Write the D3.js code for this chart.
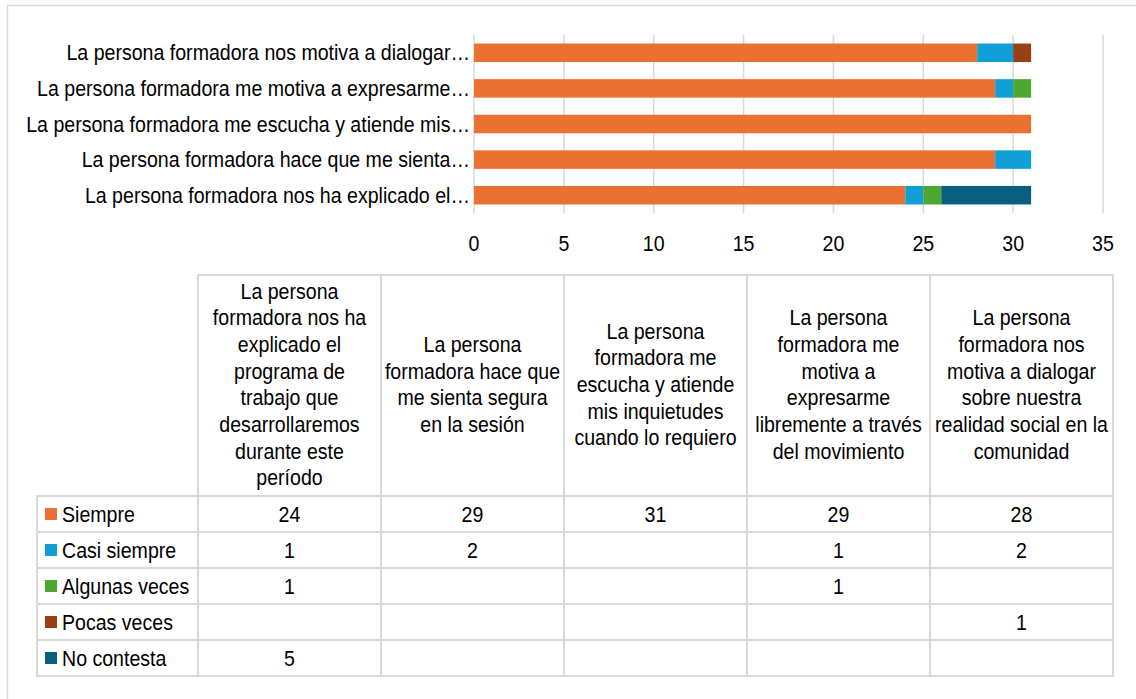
<!DOCTYPE html>
<html>
<head>
<meta charset="utf-8">
<script src="https://cdn.jsdelivr.net/npm/d3@7"></script>
<style>
  html, body { margin: 0; padding: 0; background: #fff; }
  svg { display: block; }
  text { font-family: "Liberation Sans", Arial, sans-serif; fill: #000; }
</style>
</head>
<body>
<svg id="chart" width="1136" height="699"></svg>
<script>
// ---------- data ----------
const categories = [
  "La persona formadora nos ha explicado el programa de trabajo que desarrollaremos durante este período",
  "La persona formadora hace que me sienta segura en la sesión",
  "La persona formadora me escucha y atiende mis inquietudes cuando lo requiero",
  "La persona formadora me motiva a expresarme libremente a través del movimiento",
  "La persona formadora nos motiva a dialogar sobre nuestra realidad social en la comunidad"
];
const axisLabels = [
  "La persona formadora nos ha explicado el…",
  "La persona formadora hace que me sienta…",
  "La persona formadora me escucha y atiende mis…",
  "La persona formadora me motiva a expresarme…",
  "La persona formadora nos motiva a dialogar…"
];
const headerLines = [
  ["La persona", "formadora nos ha", "explicado el", "programa de", "trabajo que", "desarrollaremos", "durante este", "período"],
  ["La persona", "formadora hace que", "me sienta segura", "en la sesión"],
  ["La persona", "formadora me", "escucha y atiende", "mis inquietudes", "cuando lo requiero"],
  ["La persona", "formadora me", "motiva a", "expresarme", "libremente a través", "del movimiento"],
  ["La persona", "formadora nos", "motiva a dialogar", "sobre nuestra", "realidad social en la", "comunidad"]
];
const seriesNames = ["Siempre", "Casi siempre", "Algunas veces", "Pocas veces", "No contesta"];
const siempre      = [24, 29, 31, 29, 28];
const casiSiempre  = [1, 2, null, 1, 2];
const algunasVeces = [1, null, null, 1, null];
const pocasVeces   = [null, null, null, null, 1];
const noContesta   = [5, null, null, null, null];
const xTicks = [0, 5, 10, 15, 20, 25, 30, 35];

const seriesValues = [siempre, casiSiempre, algunasVeces, pocasVeces, noContesta];
const colors = ["#E97132", "#0F9ED5", "#4EA72E", "#983F14", "#0A5E80"];

// ---------- setup ----------
const svg = d3.select("#chart");
const FS = 22, SX = 0.89;
const grid = "#d9d9d9";

function sq(sel, x, y) { return sel.attr("transform", `translate(${x},${y}) scale(${SX},1)`); }

// outer frame
svg.append("line").attr("x1", 7.5).attr("x2", 7.5).attr("y1", 5).attr("y2", 699)
  .attr("stroke", grid).attr("stroke-width", 1.5);
svg.append("line").attr("x1", 7).attr("x2", 1136).attr("y1", 5.5).attr("y2", 5.5)
  .attr("stroke", grid).attr("stroke-width", 1.5);

// ---------- bar chart ----------
const rows = categories.map((c, i) => {
  const o = { cat: c, label: axisLabels[i] };
  seriesNames.forEach((s, j) => o[s] = seriesValues[j][i] || 0);
  return o;
});

const x = d3.scaleLinear().domain([0, 35]).range([474, 1103]);
const y = d3.scaleBand().domain(categories.slice().reverse()).range([35, 213]).paddingInner(0.48).paddingOuter(0.24);

// gridlines
svg.append("g").selectAll("line").data(xTicks).join("line")
  .attr("x1", d => x(d)).attr("x2", d => x(d))
  .attr("y1", 35).attr("y2", 213)
  .attr("stroke", grid).attr("stroke-width", 1.5);

const stack = d3.stack().keys(seriesNames)(rows);
svg.append("g").selectAll("g").data(stack).join("g")
  .attr("fill", (d, i) => colors[i])
  .selectAll("rect").data(d => d.filter(p => p[1] - p[0] > 0)).join("rect")
  .attr("x", d => x(d[0]))
  .attr("width", d => x(d[1]) - x(d[0]))
  .attr("y", d => y(d.data.cat))
  .attr("height", y.bandwidth());

// category labels
svg.append("g").selectAll("text").data(rows).join("text")
  .each(function(d) { sq(d3.select(this), 470, y(d.cat) + y.bandwidth() / 2 + 7.5); })
  .attr("text-anchor", "end").attr("font-size", FS)
  .text(d => d.label);

// x tick labels
svg.append("g").selectAll("text").data(xTicks).join("text")
  .each(function(d) { sq(d3.select(this), x(d), 251); })
  .attr("text-anchor", "middle").attr("font-size", FS)
  .text(d => d);

// ---------- data table ----------
const colX = d3.scaleBand().domain(d3.range(categories.length)).range([198, 1113]);
const headTop = 275, headBot = 496, rowH = 36;
const rowY = d3.scaleBand().domain(seriesNames).range([headBot, headBot + rowH * seriesNames.length]);
const tbl = svg.append("g").attr("stroke", grid).attr("stroke-width", 2).attr("fill", "none");

// header cells
tbl.selectAll("rect.h").data(d3.range(categories.length)).join("rect").attr("class", "h")
  .attr("x", i => colX(i)).attr("y", headTop).attr("width", colX.bandwidth()).attr("height", headBot - headTop);
// body cells
const cells = [];
seriesNames.forEach((s, r) => {
  cells.push({ x: 37, w: 198 - 37, s });
  d3.range(categories.length).forEach(c => cells.push({ x: colX(c), w: colX.bandwidth(), s }));
});
tbl.selectAll("rect.b").data(cells).join("rect").attr("class", "b")
  .attr("x", d => d.x).attr("y", d => rowY(d.s)).attr("width", d => d.w).attr("height", rowH);

// header text
const LH = 26.7;
const hc = (headTop + headBot) / 2;
headerLines.forEach((lines, i) => {
  const cx = colX(i) + colX.bandwidth() / 2;
  svg.append("g").selectAll("text").data(lines).join("text")
    .each(function(d, k) { sq(d3.select(this), cx, hc - (lines.length - 1) / 2 * LH + k * LH + 6.5); })
    .attr("text-anchor", "middle").attr("font-size", FS)
    .text(d => d);
});

// legend keys + series names
seriesNames.forEach((s, r) => {
  const cy = rowY(s) + rowH / 2;
  svg.append("rect").attr("x", 45).attr("y", cy - 6).attr("width", 12).attr("height", 12).attr("fill", colors[r]);
  sq(svg.append("text"), 62, cy + 7.5).attr("font-size", FS).text(s);
  seriesValues[r].forEach((v, c) => {
    if (v == null) return;
    sq(svg.append("text"), colX(c) + colX.bandwidth() / 2, cy + 7.5)
      .attr("text-anchor", "middle").attr("font-size", FS).text(v);
  });
});
</script>
</body>
</html>
